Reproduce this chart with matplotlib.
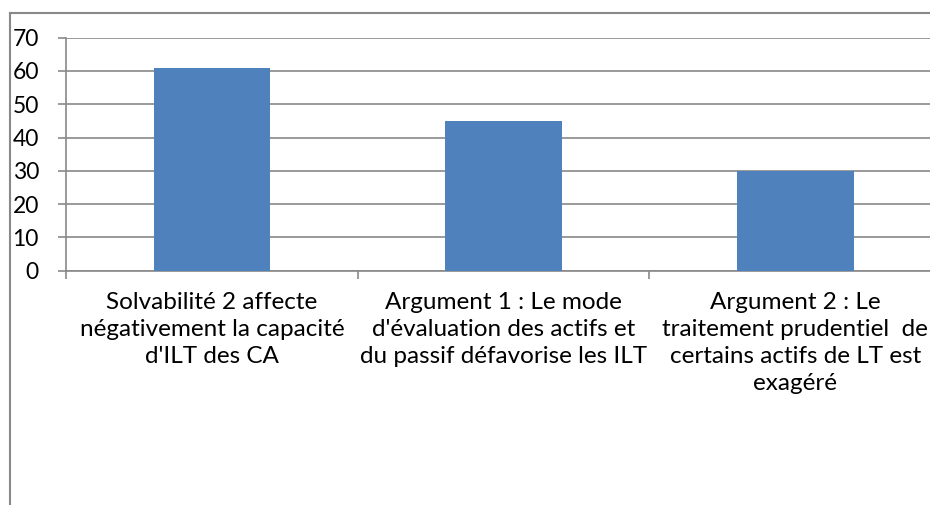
import matplotlib.pyplot as plt
from matplotlib.lines import Line2D
import numpy as np

categories = [
    "Solvabilité 2 affecte\nnégativement la capacité\nd'ILT des CA",
    "Argument 1 : Le mode\nd'évaluation des actifs et\ndu passif défavorise les ILT",
    "Argument 2 : Le\ntraitement prudentiel  de\ncertains actifs de LT est\nexagéré",
]
values = [61, 45, 30]
yticks = [0, 10, 20, 30, 40, 50, 60, 70]

grey = "#898989"
plt.rcParams["font.family"] = ["Lato", "DejaVu Sans"]

fig = plt.figure(figsize=(9.3, 5.05), dpi=100)
ax = fig.add_axes([66 / 930, 1 - 270.7 / 505, 875 / 930, 233 / 505])

x = np.arange(len(values))
ax.bar(x, values, width=0.4, color="#4F81BD", zorder=3)

ax.set_xlim(-0.5, 2.5)
ax.set_ylim(0, 70)
ax.set_yticks(yticks)
ax.set_yticklabels([str(v) for v in yticks], fontsize=16.5)
ax.yaxis.grid(True, color=grey, linewidth=1.2)
ax.set_axisbelow(True)

ax.set_xticks([-0.5, 0.5, 1.5, 2.5])
ax.set_xticklabels([])
ax.set_xticks(x, minor=True)
ax.set_xticklabels(categories, minor=True, fontsize=17.5, linespacing=1.34)
ax.tick_params(axis="x", which="major", length=6, color=grey, width=1.2)
ax.tick_params(axis="x", which="minor", length=0, pad=15.5)
ax.tick_params(axis="y", length=6, color=grey, width=1.2, pad=13.5)

for side in ["top", "right"]:
    ax.spines[side].set_visible(False)
for side in ["left", "bottom"]:
    ax.spines[side].set_color(grey)
    ax.spines[side].set_linewidth(1.2)

# chart frame (left and top edges visible)
fig.add_artist(Line2D([10 / 930, 10 / 930], [0, 1 - 12.5 / 505], color=grey, lw=1.5))
fig.add_artist(Line2D([10 / 930, 1], [1 - 12.5 / 505, 1 - 12.5 / 505], color=grey, lw=1.5))

fig.savefig("out.png", dpi=100)
